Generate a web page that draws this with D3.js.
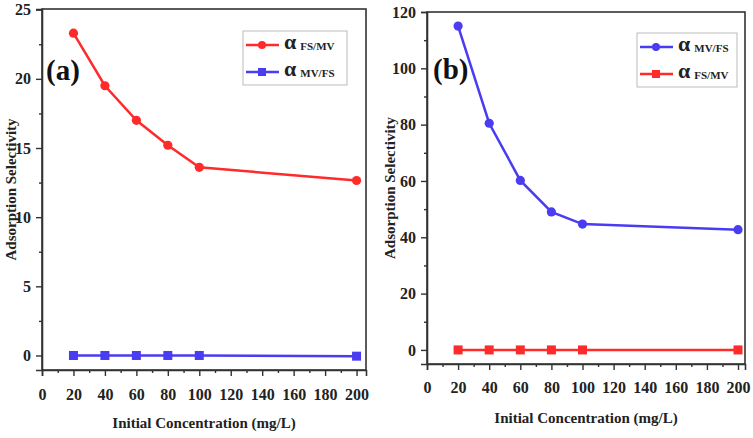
<!DOCTYPE html>
<html><head><meta charset="utf-8">
<script src="https://cdn.jsdelivr.net/npm/d3@7"></script>
<style>body{margin:0;background:#fff}svg{display:block}</style>
</head><body>
<svg id="c" width="753" height="438"></svg>
<script>
const concentrations = [20, 40, 60, 80, 100, 200];
const alphaFSMV_a = [23.3, 19.5, 17.0, 15.2, 13.6, 12.65];
const alphaMVFS_a = [0, 0, 0, 0, 0, -0.05];
const alphaMVFS_b = [115, 80.5, 60.2, 49.0, 44.7, 42.7];
const alphaFSMV_b = [0, 0, 0, 0, 0, 0];
const xTicks = [0, 20, 40, 60, 80, 100, 120, 140, 160, 180, 200];
const yTicksA = [0, 5, 10, 15, 20, 25];
const yTicksB = [0, 20, 40, 60, 80, 100, 120];

const RED = "#ff2a2a", BLUE = "#4a3cf0";
const svg = d3.select("#c");
const font = "Liberation Serif, Times New Roman, serif";

function panel(cfg) {
  const g = svg.append("g");
  const x = d3.scaleLinear().domain(cfg.xDomain).range([cfg.left, cfg.right]);
  const y = d3.scaleLinear().domain(cfg.yDomain).range([cfg.bottom, cfg.top]);
  g.append("rect").attr("x", cfg.left).attr("y", cfg.top)
    .attr("width", cfg.right - cfg.left).attr("height", cfg.bottom - cfg.top)
    .attr("fill", "none").attr("stroke", "#333").attr("stroke-width", 1.6);
  g.append("g").attr("transform", `translate(0,${cfg.bottom})`)
    .call(d3.axisBottom(x).tickValues(xTicks).tickSize(6).tickPadding(cfg.xPad).tickFormat(d3.format("d")));
  g.append("g").attr("transform", `translate(0,${cfg.bottom})`)
    .call(d3.axisBottom(x).tickValues(d3.range(10, 210, 20)).tickSize(3).tickFormat(""))
    .call(s => s.select(".domain").remove());
  g.append("g").attr("transform", `translate(${cfg.left},0)`)
    .call(d3.axisLeft(y).tickValues(cfg.yTicks).tickSize(6).tickPadding(5));
  g.append("g").attr("transform", `translate(${cfg.left},0)`)
    .call(d3.axisLeft(y).tickValues(cfg.yMinor).tickSize(3).tickFormat(""))
    .call(s => s.select(".domain").remove());
  g.selectAll(".domain").attr("stroke", "#333").attr("stroke-width", 1.6);
  g.selectAll(".tick line").attr("stroke", "#333").attr("stroke-width", 1.4);
  g.selectAll(".tick text").attr("font-family", font).attr("font-weight", "bold")
    .attr("font-size", 16).attr("fill", "#222");
  g.append("text").attr("x", (cfg.left + cfg.right) / 2).attr("y", cfg.xTitleY)
    .attr("text-anchor", "middle").attr("font-family", font).attr("font-weight", "bold")
    .attr("font-size", 15).attr("fill", "#222").text("Initial Concentration (mg/L)");
  g.append("text").attr("transform", `translate(${cfg.yTitleX},${(cfg.top + cfg.bottom) / 2}) rotate(-90)`)
    .attr("text-anchor", "middle").attr("font-family", font).attr("font-weight", "bold")
    .attr("font-size", 15).attr("fill", "#222").text("Adsorption Selectivity");
  g.append("text").attr("x", cfg.labelX).attr("y", cfg.labelY).attr("font-family", font)
    .attr("font-weight", "bold").attr("font-size", 29).attr("fill", "#111").text(cfg.label);
  const line = d3.line().x((d, i) => x(concentrations[i])).y(d => y(d));
  cfg.series.forEach(s => {
    g.append("path").datum(s.values).attr("d", line).attr("fill", "none")
      .attr("stroke", s.color).attr("stroke-width", 2.5);
    if (s.shape === "circle") {
      g.selectAll(null).data(s.values).enter().append("circle")
        .attr("cx", (d, i) => x(concentrations[i])).attr("cy", d => y(d)).attr("r", 4.6).attr("fill", s.color);
    } else {
      g.selectAll(null).data(s.values).enter().append("rect")
        .attr("x", (d, i) => x(concentrations[i]) - 4.5).attr("y", d => y(d) - 4.5)
        .attr("width", 9).attr("height", 9).attr("fill", s.color);
    }
  });
  const L = cfg.legend;
  g.append("rect").attr("x", L.x).attr("y", L.y).attr("width", L.w).attr("height", L.h)
    .attr("fill", "#fff").attr("stroke", "#bbb").attr("stroke-width", 1);
  cfg.series.forEach((s, i) => {
    const ry = L.y + 14 + i * 27;
    g.append("line").attr("x1", L.x + 3).attr("x2", L.x + 36).attr("y1", ry).attr("y2", ry)
      .attr("stroke", s.color).attr("stroke-width", 2.5);
    if (s.shape === "circle") g.append("circle").attr("cx", L.x + 19).attr("cy", ry).attr("r", 4).attr("fill", s.color);
    else g.append("rect").attr("x", L.x + 15).attr("y", ry - 4).attr("width", 8).attr("height", 8).attr("fill", s.color);
    const t = g.append("text").attr("x", L.x + 41).attr("y", ry + 4).attr("font-family", font)
      .attr("font-weight", "bold").attr("fill", "#222");
    t.append("tspan").attr("font-size", 22).text("α");
    t.append("tspan").attr("font-size", 11).attr("dx", 4).attr("dy", 1).text(s.name);
  });
}

panel({
  left: 42, right: 366, top: 9, bottom: 370, xPad: 13,
  xDomain: [0, 206], yDomain: [-1.05, 25.05], yTicks: yTicksA, yMinor: [2.5, 7.5, 12.5, 17.5, 22.5],
  xTitleY: 428, yTitleX: 16, label: "(a)", labelX: 46, labelY: 80,
  legend: { x: 243, y: 31, w: 104, h: 54 },
  series: [
    { name: "FS/MV", values: alphaFSMV_a, color: RED, shape: "circle" },
    { name: "MV/FS", values: alphaMVFS_a, color: BLUE, shape: "square" }
  ]
});
panel({
  left: 427, right: 745, top: 12, bottom: 364, xPad: 12,
  xDomain: [0, 204.5], yDomain: [-5, 120], yTicks: yTicksB, yMinor: [10, 30, 50, 70, 90, 110],
  xTitleY: 423, yTitleX: 395, label: "(b)", labelX: 433, labelY: 79,
  legend: { x: 637, y: 33, w: 100, h: 54 },
  series: [
    { name: "MV/FS", values: alphaMVFS_b, color: BLUE, shape: "circle" },
    { name: "FS/MV", values: alphaFSMV_b, color: RED, shape: "square" }
  ]
});
</script>
</body></html>
